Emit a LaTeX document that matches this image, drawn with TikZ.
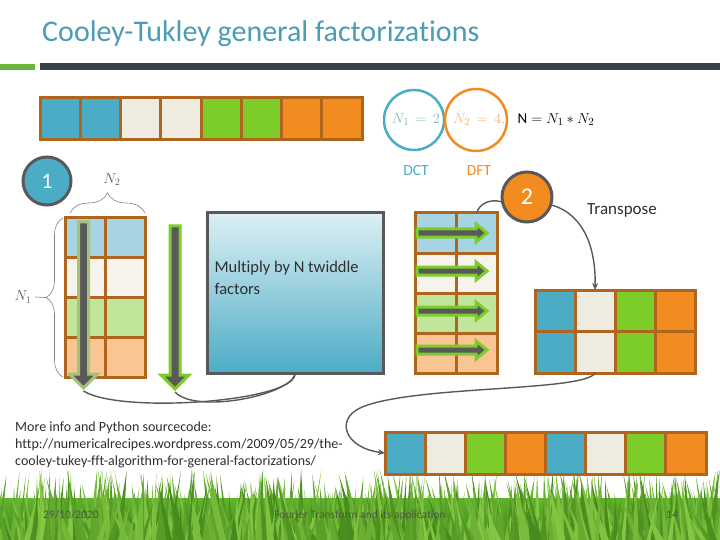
\documentclass[tikz,border=0pt]{standalone}
\usepackage{fontspec}
\setmainfont{Carlito}[Ligatures=NoCommon]
\usetikzlibrary{decorations.pathreplacing,arrows.meta,shadings}
\definecolor{cblue}{HTML}{4BACC6}
\definecolor{ccream}{HTML}{EEECE1}
\definecolor{cgreen}{HTML}{7DCD2A}
\definecolor{corange}{HTML}{F28C21}
\definecolor{lblue}{HTML}{A7D4E3}
\definecolor{lcream}{HTML}{F6F3EC}
\definecolor{lgreen}{HTML}{C2E59C}
\definecolor{lorange}{HTML}{F9C593}
\definecolor{cbrown}{HTML}{B0651E}
\definecolor{dgray}{HTML}{595959}
\definecolor{titlec}{HTML}{4A9DB3}
\definecolor{olivec}{HTML}{A5C27A}
\definecolor{titlegreen}{HTML}{6DB33F}
\definecolor{bardark}{HTML}{3B4248}
\definecolor{eqteal}{HTML}{82B8C6}
\definecolor{eqorange}{HTML}{F2B47A}
\definecolor{textdark}{HTML}{2E2E2E}
\definecolor{grassA}{HTML}{5EB52A}
\definecolor{grassB}{HTML}{3F8A18}
\definecolor{grassdark}{HTML}{3A8015}
\definecolor{grasslight}{HTML}{93D64C}
\definecolor{footc}{HTML}{4E5A45}
\definecolor{multtop}{HTML}{DDEFF4}
\newcommand{\blkdown}[4]{%
  \filldraw[fill=dgray,draw=#4,line width=3pt,line join=miter]
   ({#1-5},{#2}) -- ({#1+5},{#2}) -- ({#1+5},{#3-14}) -- ({#1+14},{#3-14})
   -- ({#1},{#3}) -- ({#1-14},{#3-14}) -- ({#1-5},{#3-14}) -- cycle;}
\newcommand{\blkright}[4]{%
  \filldraw[fill=dgray,draw=#4,line width=3pt,line join=miter]
   ({#1},{#3-4}) -- ({#2-11},{#3-4}) -- ({#2-11},{#3-9}) -- ({#2},{#3})
   -- ({#2-11},{#3+9}) -- ({#2-11},{#3+4}) -- ({#1},{#3+4}) -- cycle;}
\begin{document}
\begin{tikzpicture}[x=1pt,y=-1pt,
  cell/.style={draw=cbrown,line width=3pt,inner sep=0pt,outer sep=0pt},
  conn/.style={draw=dgray,line width=1.4pt},
  bracestyle/.style={draw=gray,line width=0.6pt,decorate},
  foot/.style={text=footc,font=\fontsize{11.5}{13}\selectfont}]
\useasboundingbox (0,0) rectangle (720,540);
% grass
\shade[top color=grassA,bottom color=grassB] (0,498) rectangle (720,540);
\pgfmathsetseed{42}
\foreach \i in {1,...,750}{
  \pgfmathsetmacro{\bx}{rnd*740-10}
  \pgfmathsetmacro{\ty}{468+rnd*50}
  \pgfmathsetmacro{\lean}{(rnd-0.5)*28}
  \pgfmathsetmacro{\w}{3+rnd*5}
  \pgfmathtruncatemacro{\mix}{15+rnd*75}
  \fill[grassdark!\mix!grasslight] (\bx,540) -- ({\bx+\lean},\ty) -- ({\bx+\w},540) -- cycle;
}
\node[foot] (date) at (71,515) {29/10/2020};
\node[foot] (ftitle) at (360,515) {Fourier Transform and its application};
\node[foot] (pnum) at (672,515) {14};
% title
\node[anchor=west,text=titlec,font=\fontsize{30}{34}\selectfont,inner sep=0pt] (title) at (42,34) {Cooley-Tukley general factorizations};
\fill[titlegreen] (0,64) rectangle (35,70);
\fill[bardark] (40,63) rectangle (720,70);
% top array
\foreach \c [count=\i] in {cblue,cblue,ccream,ccream,cgreen,cgreen,corange,corange}
  \node[cell,fill=\c,minimum width=40.25pt,minimum height=42pt] (t\i) at ({40+20.125+(\i-1)*40.25},119) {};
% circles N1 N2
\node[circle,draw=cblue,line width=2.5pt,minimum size=60pt,inner sep=0pt] (cn1) at (414,120) {};
\node[circle,draw=corange,line width=2.5pt,minimum size=62pt,inner sep=0pt] (cn2) at (476,120) {};
\node[text=eqteal,font=\fontsize{15}{17}\selectfont] (eq1) at (416,120) {$N_1\,=\,2$};
\node[text=eqorange,font=\fontsize{15}{17}\selectfont] (eq2) at (479,120) {$N_2\,=\,4,$};
\node[text=black,font=\fontsize{15}{17}\selectfont] (eq3) at (556,120) {$\mathrm{N}=N_1*N_2$};
\node[text=cblue,font=\fontsize{15.5}{17}\selectfont] (dct) at (416,171) {DCT};
\node[text=corange,font=\fontsize{15.5}{17}\selectfont] (dft) at (479,171) {DFT};
% step circles
\node[circle,draw=dgray,line width=3pt,fill=cblue,minimum size=48pt,inner sep=0pt,text=white,font=\fontsize{22}{24}\selectfont] (c1) at (47,181) {1};
\node[circle,draw=dgray,line width=3pt,fill=corange,minimum size=50pt,inner sep=0pt,text=white,font=\fontsize{24}{26}\selectfont] (c2) at (527,197) {2};
\node[text=textdark,font=\fontsize{17}{19}\selectfont] (tlabel) at (622,210) {Transpose};
% left matrix
\foreach \c [count=\r] in {lblue,lcream,lgreen,lorange}
  \foreach \k in {1,2}
    \node[cell,fill=\c,minimum width=40pt,minimum height=39.75pt] (l\r\k) at ({65+20+(\k-1)*40},{218+19.875+(\r-1)*39.75}) {};
% braces
\draw[bracestyle,decoration={brace,amplitude=20pt}] (70,213) -- (145,213);
\node[text=dgray,font=\fontsize{14}{16}\selectfont] (n2lab) at (112,180) {$N_2$};
\draw[bracestyle,decoration={brace,amplitude=17pt}] (63,377) -- (63,218);
\coordinate (n1tip) at (46,297.5);
\node[text=dgray,font=\fontsize{14}{16}\selectfont] (n1lab) at (23,297) {$N_1$};
\draw[gray,line width=0.6pt] (n1lab.east) -- (n1tip);
% down arrows
\blkdown{83.5}{222}{388}{olivec}
\coordinate (da1) at (83.5,391);
\blkdown{175}{226}{389}{cgreen}
\coordinate (da2) at (175,392);
% multiply box
\node[draw=dgray,line width=3pt,minimum width=176pt,minimum height=160pt,top color=multtop,bottom color=cblue,inner sep=0pt] (mult) at (295,293) {};
\node[anchor=west,align=left,text=textdark,font=\fontsize{16.5}{22}\selectfont] (multtxt) at (211,278) {Multiply by N twiddle\\factors};
% right matrix
\foreach \c [count=\r] in {lblue,lcream,lgreen,lorange}
  \foreach \k in {1,2}
    \node[cell,fill=\c,minimum width=41pt,minimum height=40pt] (r\r\k) at ({415+20.5+(\k-1)*41},{213+20+(\r-1)*40}) {};
\foreach \yy in {233,271,311,350}
  \blkright{417}{487}{\yy}{cgreen}
% transpose matrix
\foreach \c [count=\k] in {cblue,ccream,cgreen,corange}
  \foreach \r in {1,2}
    \node[cell,fill=\c,minimum width=40pt,minimum height=41.5pt] (p\r\k) at ({535+20+(\k-1)*40},{290+20.75+(\r-1)*41.5}) {};
% bottom array
\foreach \c [count=\i] in {cblue,ccream,cgreen,corange,cblue,ccream,cgreen,corange}
  \node[cell,fill=\c,minimum width=40.125pt,minimum height=42pt] (b\i) at ({385+20.06+(\i-1)*40.125},453) {};
% connectors
\draw[conn] (mult.south) .. controls (292,402) and (120,414) .. (da1);
\draw[conn] (mult.south) .. controls (288,396) and (195,414) .. (da2);
\draw[conn] (c2.190) .. controls (490,199) and (480,203) .. (r12.north);
\draw[conn,-{Stealth[length=7pt,width=6pt]}] (c2.-18) .. controls (585,215) and (596,250) .. (p12.north);
\draw[conn,-{Stealth[length=7pt,width=6pt]}] (p22.south) .. controls (585,392) and (410,385) .. (360,408) .. controls (335,420) and (345,448) .. (b1.west);
% info text
\node[anchor=north west,align=left,text=textdark,font=\fontsize{14}{17}\selectfont,inner sep=0pt] (info) at (15,422) {More info and Python sourcecode:\\http://numericalrecipes.wordpress.com/2009/05/29/the-\\cooley-tukey-fft-algorithm-for-general-factorizations/};
\end{tikzpicture}
\end{document}
